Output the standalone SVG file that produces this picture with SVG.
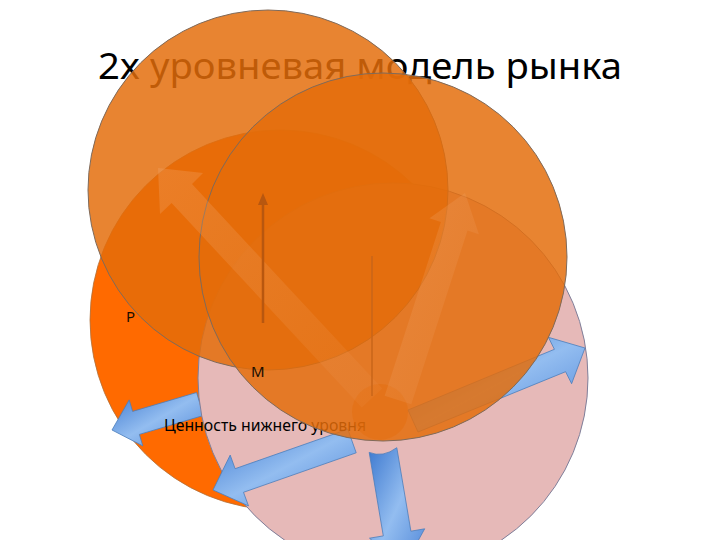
<svg xmlns="http://www.w3.org/2000/svg" width="720" height="540" viewBox="0 0 720 540">
<defs>
<style>
.title{font-family:"Noto Sans","Open Sans","Liberation Sans",sans-serif;font-size:37px;fill:#000}
.lbl{font-family:"Noto Sans","Open Sans","Liberation Sans",sans-serif;font-size:15px;fill:#1a0d00}
.tr{fill:#E46C0A;fill-opacity:0.84;stroke:#7f6a5a;stroke-width:1}
.blue{fill:url(#bg);stroke:#4a7ebb;stroke-width:0.8}
.ghost{fill:url(#og);stroke:none}
</style>
<linearGradient id="bg" x1="0" y1="0" x2="1" y2="1">
<stop offset="0" stop-color="#3F7AD0"/>
<stop offset="0.5" stop-color="#93BDF0"/>
<stop offset="1" stop-color="#4F86D8"/>
</linearGradient>
<linearGradient id="og" x1="0" y1="0" x2="1" y2="1">
<stop offset="0" stop-color="#F0A56A" stop-opacity="0.32"/>
<stop offset="1" stop-color="#F0A56A" stop-opacity="0.08"/>
</linearGradient>
</defs>
<rect width="720" height="540" fill="#fff"/>
<g id="title"><text class="title" x="98" y="79" textLength="524" lengthAdjust="spacingAndGlyphs">2x уровневая модель рынка</text></g>
<g id="circle-base"><circle cx="280" cy="320" r="190" fill="#FF6A00" stroke="#b0703a" stroke-width="0.8"/></g>
<g id="connectors-under">
<polygon class="blue" points="196.6,392.5 132.6,411.4 129.2,399.9 112,430 142.8,445.9 139.4,434.4 203.4,415.5"/>
</g>
<g id="circle-pink"><circle cx="393" cy="378" r="195" fill="#E6B9B8" stroke="#7f7f9a" stroke-width="1"/></g>
<g id="connectors">
<polygon class="blue" points="347.8,429.2 235.1,468.7 230.2,455.1 213,490 248.5,505.9 243.5,492.3 356.2,452.8"/>
<path class="blue" d="M396.8,447.7 L410.9,531.2 L424.7,528.8 L403,568 L369.5,538.2 L383.3,535.9 L369.2,452.4 Q383,458 396.8,447.7 Z"/>
<polygon class="blue" points="418,432 565.6,371.7 571.6,383.7 585,348 548.4,337.3 554.4,349.3 408,410"/>
</g>
<g id="label-value"><text class="lbl" x="164" y="431" textLength="202" lengthAdjust="spacingAndGlyphs" style="fill:#000;font-size:16px">Ценность нижнего уровня</text></g>
<g id="circle-a"><circle class="tr" cx="268" cy="190" r="180"/></g>
<g id="circle-b"><circle class="tr" cx="383" cy="257" r="184"/></g>
<g id="hub"><circle cx="380" cy="412" r="28" fill="#E46C0A" fill-opacity="0.4"/></g>
<g id="ghost-arrows">
<polygon class="ghost" points="382.2,388.5 192,184.1 203,173 158,168 160,214 171.6,203.1 361.8,407.5"/>
<polygon class="ghost" points="411.3,404.3 467.5,230.6 478.9,234.3 465,193 429.5,218.3 440.9,222 384.7,395.7"/>
</g>
<g id="thin-arrows">
<line x1="263" y1="323" x2="263" y2="203" stroke="#B8570F" stroke-width="2.5"/>
<polygon points="258,205 263,193 268,205" fill="#B8570F"/>
<line x1="372" y1="256" x2="372" y2="396" stroke="#C8661A" stroke-width="1.5"/>
</g>
<g id="label-p"><text class="lbl" x="126" y="322">Р</text></g>
<g id="label-m"><text class="lbl" x="251" y="377">М</text></g>
</svg>
